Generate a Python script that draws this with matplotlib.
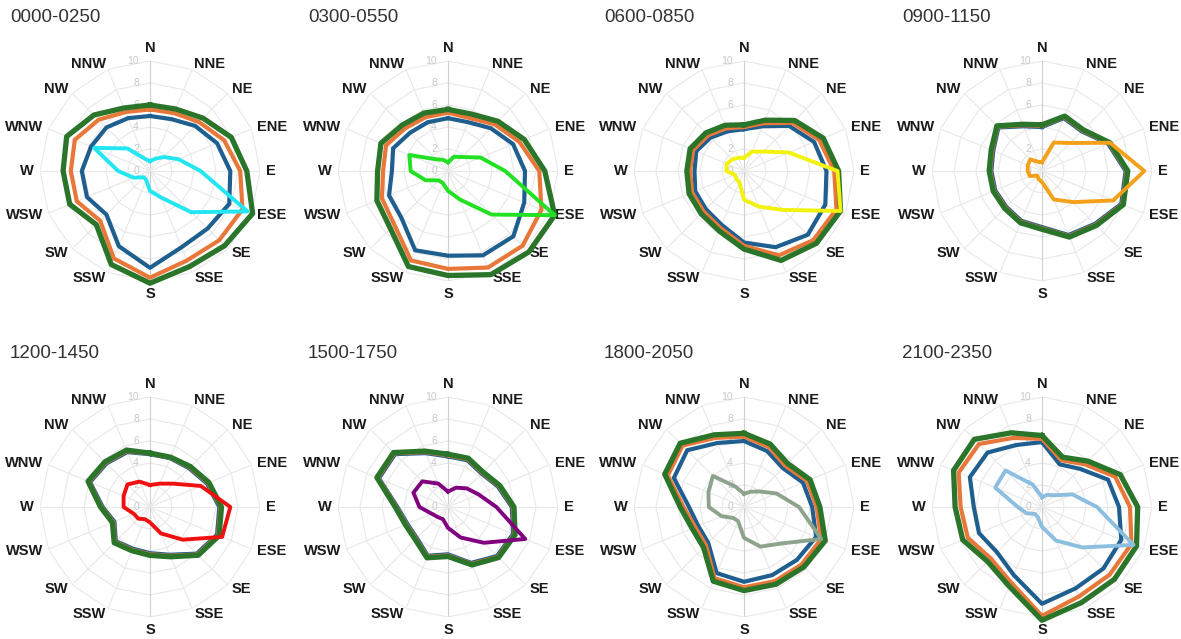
import numpy as np
import matplotlib
matplotlib.use("Agg")
import matplotlib.pyplot as plt

plt.rcParams['font.family'] = ['Liberation Sans', 'DejaVu Sans']

# 16 compass directions, clockwise from north
directions = ['N', 'NNE', 'NE', 'ENE', 'E', 'ESE', 'SE', 'SSE',
              'S', 'SSW', 'SW', 'WSW', 'W', 'WNW', 'NW', 'NNW']
radial_ticks = [0, 2, 4, 6, 8, 10]
titles = ['0000-0250', '0300-0550', '0600-0850', '0900-1150',
          '1200-1450', '1500-1750', '1800-2050', '2100-2350']

# values per panel, order N..NNW
p1_blue = [5.0, 5.1, 5.8, 6.6, 7.3, 7.8, 7.4, 7.5, 8.8, 7.4, 5.6, 6.2, 6.2, 5.8, 5.6, 5.2]
p1_orange = [5.6, 5.7, 6.3, 7.3, 8.2, 9.1, 8.9, 8.8, 9.7, 8.6, 6.4, 7.2, 7.2, 7.4, 6.6, 5.8]
p1_green = [6.0, 6.1, 6.8, 8.0, 8.8, 10.1, 9.6, 9.4, 10.2, 9.2, 6.9, 7.9, 7.9, 8.2, 7.2, 6.2]
p1_hi = [0.9, 1.2, 1.8, 2.8, 4.6, 9.6, 5.3, 2.6, 1.8, 0.9, 0.8, 1.6, 2.9, 5.5, 2.9, 1.2]

p2_blue = [4.8, 4.8, 5.5, 6.4, 7.0, 7.5, 8.4, 8.3, 7.7, 7.8, 6.0, 5.8, 5.1, 5.4, 4.9, 4.8]
p2_orange = [5.3, 5.2, 6.0, 7.0, 8.3, 9.2, 9.6, 9.5, 8.9, 8.8, 6.9, 6.5, 5.9, 6.1, 5.5, 5.3]
p2_green = [5.6, 5.6, 6.4, 7.5, 8.8, 10.5, 10.4, 10.2, 9.5, 9.4, 7.4, 7.0, 6.4, 6.6, 5.9, 5.7]
p2_hi = [0.8, 1.4, 1.8, 3.2, 5.2, 10.5, 5.6, 2.8, 1.8, 1.2, 1.2, 2.2, 3.4, 3.8, 1.5, 1.1]

p3_blue = [3.8, 4.4, 5.8, 6.9, 7.5, 8.0, 8.2, 7.5, 6.5, 5.3, 4.9, 4.8, 4.5, 4.7, 4.3, 3.9]
p3_orange = [4.0, 4.7, 6.2, 7.4, 8.2, 9.1, 8.9, 8.3, 6.8, 5.6, 5.2, 5.1, 4.9, 5.0, 4.6, 4.2]
p3_green = [4.2, 5.0, 6.5, 7.8, 8.6, 9.5, 9.3, 8.8, 7.1, 5.9, 5.5, 5.4, 5.2, 5.3, 4.9, 4.5]
p3_hi = [1.2, 1.9, 2.5, 4.4, 8.5, 9.5, 5.0, 3.5, 2.6, 1.1, 1.0, 0.9, 1.6, 1.7, 1.5, 1.3]

p4_blue = [4.0, 5.2, 5.1, 6.5, 7.6, 7.8, 6.8, 6.3, 5.1, 4.9, 4.6, 4.6, 4.6, 4.8, 5.6, 4.4]
p4_orange = [4.1, 5.3, 5.2, 6.6, 7.7, 7.9, 6.9, 6.4, 5.2, 5.0, 4.7, 4.7, 4.7, 4.9, 5.7, 4.5]
p4_green = [4.2, 5.4, 5.3, 6.7, 7.8, 8.0, 7.0, 6.5, 5.3, 5.1, 4.8, 4.8, 4.8, 5.0, 5.8, 4.6]
p4_hi = [0.8, 2.8, 3.6, 6.7, 9.3, 7.0, 4.0, 2.8, 1.0, 0.8, 0.6, 1.2, 1.3, 1.4, 1.5, 0.9]

p5_blue = [4.8, 4.8, 5.0, 5.6, 6.3, 6.6, 6.0, 4.7, 4.2, 4.1, 4.4, 3.5, 4.3, 5.9, 5.6, 5.4]
p5_orange = [4.85, 4.85, 5.1, 5.7, 6.4, 6.7, 6.1, 4.8, 4.3, 4.2, 4.5, 3.6, 4.4, 6.0, 5.7, 5.5]
p5_green = [4.9, 4.9, 5.2, 5.8, 6.5, 6.8, 6.2, 4.9, 4.4, 4.3, 4.6, 3.7, 4.5, 6.1, 5.8, 5.6]
p5_hi = [2.0, 2.3, 3.0, 5.0, 7.3, 7.1, 4.2, 2.6, 1.4, 1.2, 1.5, 1.6, 2.4, 2.6, 2.9, 2.5]

p6_blue = [4.6, 4.6, 4.3, 4.9, 5.8, 6.4, 6.3, 5.5, 4.3, 4.8, 4.0, 4.0, 4.6, 6.8, 6.8, 5.3]
p6_orange = [4.7, 4.7, 4.4, 5.0, 5.9, 6.5, 6.4, 5.6, 4.4, 4.9, 4.1, 4.1, 4.7, 6.9, 6.9, 5.4]
p6_green = [4.8, 4.8, 4.5, 5.1, 6.0, 6.6, 6.5, 5.7, 4.5, 5.0, 4.2, 4.2, 4.8, 7.0, 7.0, 5.5]
p6_hi = [1.4, 1.9, 2.4, 3.0, 4.4, 7.6, 4.6, 3.0, 1.9, 1.2, 1.3, 1.6, 2.6, 3.4, 3.3, 2.3]

p7_blue = [6.0, 5.5, 5.0, 5.8, 6.2, 7.1, 6.8, 6.7, 6.8, 6.5, 4.6, 4.5, 5.0, 6.9, 7.3, 6.3]
p7_orange = [6.4, 5.9, 5.3, 6.2, 6.6, 7.6, 7.4, 7.3, 7.3, 7.0, 4.9, 4.8, 5.5, 7.5, 7.9, 6.8]
p7_green = [6.7, 6.2, 5.6, 6.5, 6.9, 8.0, 7.7, 7.6, 7.6, 7.3, 5.2, 5.1, 5.8, 7.8, 8.2, 7.1]
p7_hi = [1.2, 1.5, 2.0, 3.2, 5.0, 7.6, 4.7, 3.9, 2.8, 1.4, 1.4, 2.2, 3.2, 3.5, 4.0, 2.0]

p8_blue = [5.9, 4.2, 4.9, 6.5, 7.0, 7.8, 7.9, 8.0, 8.8, 6.7, 5.8, 6.2, 6.2, 7.1, 7.0, 6.1]
p8_orange = [6.2, 4.6, 5.5, 7.2, 8.0, 8.8, 8.7, 8.8, 9.9, 7.4, 6.6, 7.3, 7.4, 8.2, 8.1, 6.8]
p8_green = [6.5, 4.9, 5.9, 7.7, 8.7, 9.3, 9.3, 9.4, 10.3, 7.8, 7.0, 7.8, 7.9, 8.7, 8.7, 7.3]
p8_hi = [0.9, 1.2, 1.5, 3.0, 5.0, 9.0, 5.2, 3.3, 1.8, 1.0, 0.9, 1.5, 2.2, 4.6, 4.7, 2.2]

blues = [p1_blue, p2_blue, p3_blue, p4_blue, p5_blue, p6_blue, p7_blue, p8_blue]
oranges = [p1_orange, p2_orange, p3_orange, p4_orange, p5_orange, p6_orange, p7_orange, p8_orange]
greens = [p1_green, p2_green, p3_green, p4_green, p5_green, p6_green, p7_green, p8_green]
highs = [p1_hi, p2_hi, p3_hi, p4_hi, p5_hi, p6_hi, p7_hi, p8_hi]
hi_colors = ['#22e6f2', '#22e022', '#f2f20e', '#f5a01a',
             '#f01010', '#800080', '#8da38c', '#8cbee0']

BLUE = '#1f5f8f'
ORANGE = '#e8773a'
GREEN = '#2a752a'

W, H = 1181, 639
R = 110  # px for radius 10
CX = [150, 448, 744, 1042]
CY = [171, 507]
LABEL_R = 10.55

fig = plt.figure(figsize=(W / 100, H / 100), dpi=100)
theta = np.deg2rad(np.arange(16) * 22.5)
theta_c = np.append(theta, theta[0])


def closed(v):
    return np.append(v, v[0])


for k in range(8):
    row, col = divmod(k, 4)
    cx, cy = CX[col], CY[row]
    ax = fig.add_axes([(cx - R) / W, 1 - (cy + R) / H, 2 * R / W, 2 * R / H],
                      projection='polar')
    ax.set_theta_zero_location('N')
    ax.set_theta_direction(-1)
    ax.set_ylim(0, 10)
    ax.axis('off')

    # polygon grid
    for r in radial_ticks[1:]:
        ax.plot(theta_c, [r] * 17, color='#e8e8e8', lw=0.8, zorder=1)
    for i, t in enumerate(theta):
        c = '#cfcfcf' if i in (0, 8) else '#e8e8e8'
        ax.plot([t, t], [0, 10], color=c, lw=0.8, zorder=1)
    for r in radial_ticks:
        ax.annotate(str(r), xy=(0, r), xytext=(-8, 0), textcoords='offset points',
                    ha='right', va='center', fontsize=7.5, color='#c8c8c8', zorder=2)

    # direction labels anchored on their inner edge
    for i, (t, lab) in enumerate(zip(theta, directions)):
        if i == 0:
            ha, va = 'center', 'bottom'
        elif i == 8:
            ha, va = 'center', 'top'
        elif i < 8:
            ha, va = 'left', 'center'
        else:
            ha, va = 'right', 'center'
        ax.text(t, LABEL_R, lab, ha=ha, va=va, fontsize=10.5,
                fontweight='bold', color='#1a1a1a')

    ax.plot(theta_c, closed(blues[k]), color=BLUE, lw=3.0, zorder=3, clip_on=False)
    ax.plot(theta_c, closed(oranges[k]), color=ORANGE, lw=3.0, zorder=4, clip_on=False)
    ax.plot(theta_c, closed(greens[k]), color=GREEN, lw=3.8, zorder=5, clip_on=False)
    ax.plot(theta_c, closed(highs[k]), color=hi_colors[k], lw=2.8, zorder=6, clip_on=False)

    fig.text((cx - 140) / W, 1 - (cy - 154) / H, titles[k], ha='left', va='center',
             fontsize=13.5, color='#333333')

fig.savefig('out.png', dpi=100)
